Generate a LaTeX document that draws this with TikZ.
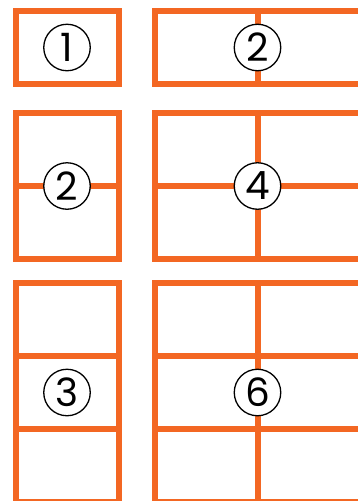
\documentclass[tikz,border=0pt]{standalone}
\usepackage{fontspec}
\setmainfont{Poppins}
\definecolor{gridorange}{RGB}{243,103,35}

\begin{document}
\begin{tikzpicture}[x=1pt,y=-1pt,
    cell/.style={draw=gridorange,line width=6pt},
    num/.style={circle,draw=black,line width=1.3pt,fill=white,
      minimum size=46.5pt,inner sep=0pt,font=\fontsize{39}{39}\selectfont}]
   \useasboundingbox (0,0) rectangle (358,501);
   % first row
   \draw[cell] (15.5,11) rectangle (119,84);
   \draw[cell] (154.5,11) rectangle (362,84);
   \draw[cell] (257.5,11) -- (257.5,84);
   % second row
   \draw[cell] (15.5,113) rectangle (119,259);
   \draw[cell] (15.5,186) -- (119,186);
   \draw[cell] (154.5,113) rectangle (362,259);
   \draw[cell] (154.5,186) -- (362,186);
   \draw[cell] (257.5,113) -- (257.5,259);
   % third row
   \draw[cell] (15.5,283) rectangle (119,502);
   \draw[cell] (154.5,283) rectangle (362,502);
   \foreach \y in {356,429} {
     \draw[cell] (15.5,\y) -- (119,\y);
     \draw[cell] (154.5,\y) -- (362,\y);
   }
   \draw[cell] (257.5,283) -- (257.5,502);
   % circled numbers
   \node[num] (one) at (67,47.5) {1};
   \node[num] (twoA) at (257.5,47.5) {2};
   \node[num] (twoB) at (67,186) {2};
   \node[num] (four) at (257.5,186) {4};
   \node[num] (three) at (67,392.5) {3};
   \node[num] (six) at (257.5,392.5) {6};
\end{tikzpicture}
\end{document}
